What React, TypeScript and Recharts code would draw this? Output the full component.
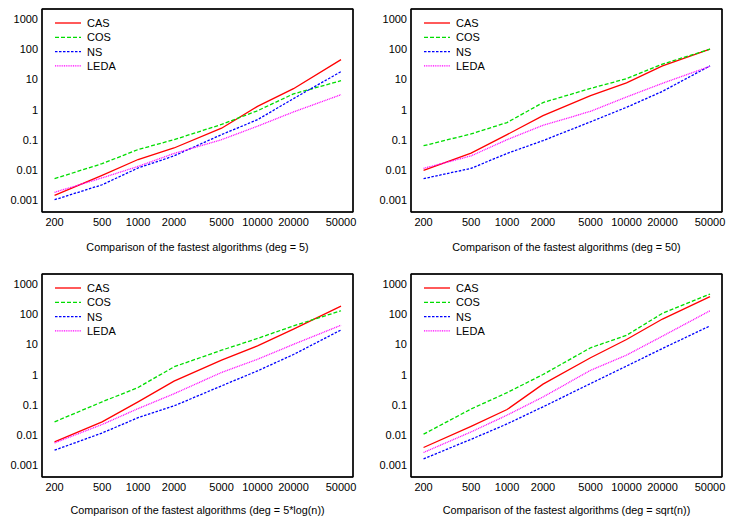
import { Legend, Line, LineChart, ReferenceArea, XAxis, YAxis } from "recharts";

const sizes = [200, 500, 1000, 2000, 5000, 10000, 20000, 50000];
const yMajor = [0.001, 0.01, 0.1, 1, 10, 100, 1000];
const yMinor = [0.002, 0.005, 0.02, 0.05, 0.2, 0.5, 2, 5, 20, 50, 200, 500];

// deg = 5
const cas5 = [0.00143, 0.0066, 0.022, 0.053, 0.24, 1.27, 4.9, 45];
const cos5 = [0.0051, 0.016, 0.047, 0.1, 0.32, 0.91, 3.3, 9];
const ns5 = [0.00102, 0.0032, 0.0115, 0.029, 0.147, 0.46, 2.3, 18];
const leda5 = [0.0018, 0.0054, 0.013, 0.035, 0.1, 0.28, 0.83, 3.1];

// deg = 50
const cas50 = [0.0096, 0.036, 0.147, 0.63, 2.9, 7.6, 28, 100];
const cos50 = [0.063, 0.155, 0.37, 1.7, 5, 10.5, 32, 100];
const ns50 = [0.0051, 0.0112, 0.035, 0.093, 0.39, 1.18, 4, 28];
const leda50 = [0.0112, 0.029, 0.1, 0.3, 0.87, 2.6, 7.4, 27];

// deg = 5*log(n)
const casLog = [0.0058, 0.027, 0.124, 0.6, 3, 8.9, 32, 185];
const cosLog = [0.027, 0.124, 0.37, 1.8, 6.4, 15.7, 41, 130];
const nsLog = [0.0031, 0.0115, 0.037, 0.091, 0.42, 1.32, 4.6, 30];
const ledaLog = [0.0054, 0.022, 0.074, 0.23, 1.17, 3.2, 10, 43];

// deg = sqrt(n)
const casSqrt = [0.0038, 0.019, 0.069, 0.48, 3.6, 14.5, 69, 380];
const cosSqrt = [0.0105, 0.072, 0.25, 1.0, 7.7, 20, 107, 465];
const nsSqrt = [0.0016, 0.0071, 0.023, 0.085, 0.5, 1.9, 7.3, 41];
const ledaSqrt = [0.0026, 0.0125, 0.045, 0.18, 1.38, 4.4, 18.7, 130];

const FONT = '"Liberation Sans", Arial, Helvetica, sans-serif';
const X_DOMAIN = [157, 63000];
const Y_DOMAIN = [0.0004, 2150];

const series = [
  { key: "CAS", color: "#ff0000", dash: undefined as string | undefined },
  { key: "COS", color: "#00dd00", dash: "4 2" },
  { key: "NS", color: "#0000ff", dash: "2.5 1.5" },
  { key: "LEDA", color: "#ff00ff", dash: "1 0.8" },
];

function buildRows(cas: number[], cos: number[], ns: number[], leda: number[]) {
  return sizes.map((n, i) => ({ n, CAS: cas[i], COS: cos[i], NS: ns[i], LEDA: leda[i] }));
}

const LeftLabel = (p: any) => (
  <text x={Number(p.x) - 4} y={Number(p.y) + 4} textAnchor="end" fontSize={11} fontFamily={FONT} fill="#000" stroke="none">
    {String(p.payload.value)}
  </text>
);

const BottomLabel = (p: any) => (
  <text x={p.x} y={Number(p.y) + 14} textAnchor="middle" fontSize={11} fontFamily={FONT} fill="#000" stroke="none">
    {String(p.payload.value)}
  </text>
);

const LegendBox = () => (
  <svg width={80} height={60}>
    {series.map((s, i) => (
      <g key={s.key}>
        <line x1={0} x2={26} y1={7 + i * 14.3} y2={7 + i * 14.3} stroke={s.color} strokeWidth={1.3} strokeDasharray={s.dash} />
        <text x={32} y={7 + i * 14.3 + 4} fontSize={11} fontFamily={FONT} fill="#000">
          {s.key}
        </text>
      </g>
    ))}
  </svg>
);

// same plot geometry for every panel
const PLOT_TOP = 9;
const PLOT_LEFT = 42;
const PLOT_RIGHT = 353;
const X_HEIGHT = 48;

type PanelProps = {
  title: string;
  rows: ReturnType<typeof buildRows>;
  left: number;
  top: number;
  titleOffset: number;
};

function Panel({ title, rows, left, top, titleOffset }: PanelProps) {
  const common = {
    type: "number" as const,
    scale: "log" as const,
    allowDataOverflow: true,
    interval: 0,
    stroke: "#000",
    strokeWidth: 1.3,
  };
  return (
    <div style={{ position: "absolute", left, top }}>
      <LineChart width={365} height={260} data={rows} margin={{ top: PLOT_TOP, right: 365 - PLOT_RIGHT, left: 0, bottom: 0 }}>
        {/* labelled axes */}
        <XAxis
          {...common}
          dataKey="n"
          domain={X_DOMAIN}
          ticks={sizes}
          height={X_HEIGHT}
          tickLine={false}
          tickSize={0}
          tickMargin={0}
          tick={BottomLabel}
          label={{ value: title, position: "insideBottom", offset: titleOffset, fill: "#000", stroke: "none", fontSize: 10.8, fontFamily: FONT }}
        />
        <YAxis
          {...common}
          domain={Y_DOMAIN}
          ticks={yMajor}
          width={PLOT_LEFT}
          tickLine={false}
          tickSize={0}
          tickMargin={0}
          tick={LeftLabel}
        />
        {/* inward tick marks on all four sides */}
        <XAxis {...common} xAxisId="bt" dataKey="n" mirror domain={X_DOMAIN} ticks={sizes} height={10} tickSize={5} tick={false} axisLine={false} />
        <XAxis {...common} xAxisId="tt" dataKey="n" orientation="top" mirror domain={X_DOMAIN} ticks={sizes} height={10} tickSize={5} tick={false} />
        <YAxis {...common} yAxisId="lmaj" mirror domain={Y_DOMAIN} ticks={yMajor} width={10} tickSize={5} tick={false} axisLine={false} />
        <YAxis {...common} yAxisId="lmin" mirror domain={Y_DOMAIN} ticks={yMinor} width={10} tickSize={3} tick={false} axisLine={false} />
        <YAxis {...common} yAxisId="rmaj" orientation="right" mirror domain={Y_DOMAIN} ticks={yMajor} width={10} tickSize={5} tick={false} />
        <YAxis {...common} yAxisId="rmin" orientation="right" mirror domain={Y_DOMAIN} ticks={yMinor} width={10} tickSize={3} tick={false} axisLine={false} />
        <ReferenceArea
          x1={X_DOMAIN[0]}
          x2={X_DOMAIN[1]}
          y1={Y_DOMAIN[0]}
          y2={Y_DOMAIN[1]}
          ifOverflow="visible"
          fill="none"
          stroke="#000"
          strokeWidth={1.2}
        />
        <Legend
          layout="vertical"
          align="center"
          verticalAlign="middle"
          wrapperStyle={{ left: PLOT_LEFT + 13, top: PLOT_TOP + 7, width: 80, height: 60 }}
          content={LegendBox}
        />
        {series.map((s) => (
          <Line
            key={s.key}
            dataKey={s.key}
            stroke={s.color}
            strokeWidth={1.3}
            strokeDasharray={s.dash}
            dot={false}
            activeDot={false}
            isAnimationActive={false}
          />
        ))}
      </LineChart>
    </div>
  );
}

export default function App() {
  return (
    <div
      style={{
        position: "absolute",
        left: 0,
        top: 0,
        width: 730,
        height: 520,
        overflow: "hidden",
        background: "#fff",
        fontFamily: FONT,
      }}
    >
      <Panel title="Comparison of the fastest algorithms (deg = 5)" rows={buildRows(cas5, cos5, ns5, leda5)} left={0} top={0} titleOffset={9} />
      <Panel title="Comparison of the fastest algorithms (deg = 50)" rows={buildRows(cas50, cos50, ns50, leda50)} left={369} top={0} titleOffset={9} />
      <Panel title="Comparison of the fastest algorithms (deg = 5*log(n))" rows={buildRows(casLog, cosLog, nsLog, ledaLog)} left={0} top={265} titleOffset={11} />
      <Panel title="Comparison of the fastest algorithms (deg = sqrt(n))" rows={buildRows(casSqrt, cosSqrt, nsSqrt, ledaSqrt)} left={369} top={265} titleOffset={11} />
    </div>
  );
}
